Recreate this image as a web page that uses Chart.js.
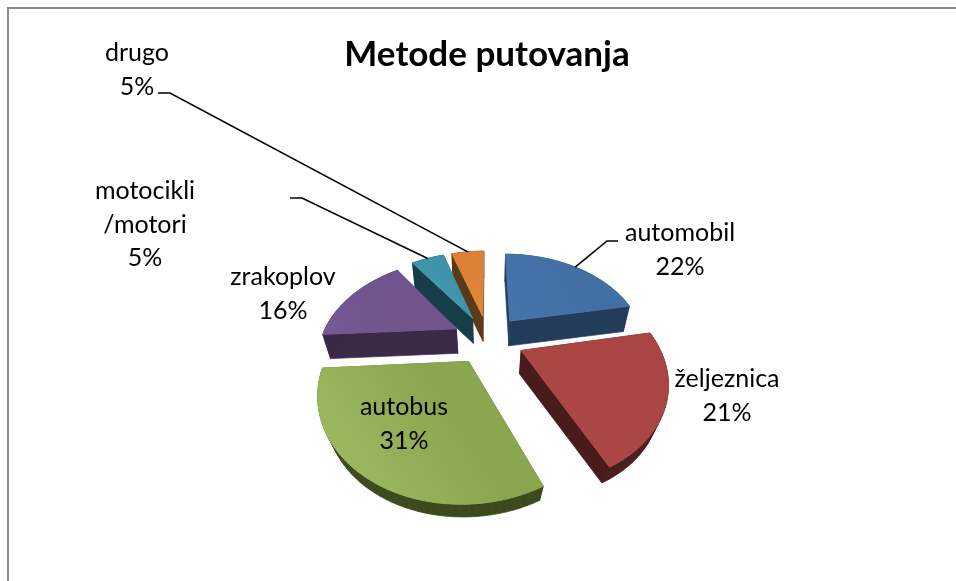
<!DOCTYPE html>
<html>
<head>
<meta charset="utf-8">
<title>Metode putovanja</title>
<script src="https://cdn.jsdelivr.net/npm/chart.js@4/dist/chart.umd.min.js"></script>
<style>
  html, body { margin: 0; padding: 0; background: #fff; overflow: hidden; }
  #okvir { position: absolute; left: 7px; top: 7px; right: 0; bottom: -4px; border-top: 2px solid #8c8c8c; border-left: 2px solid #8c8c8c; }
  #graf { position: absolute; left: 0; top: 0; }
</style>
</head>
<body>
<div id="okvir"></div>
<canvas id="graf" width="956" height="581"></canvas>
<script>
const naslov = 'Metode putovanja';
const kategorije = ['automobil', 'željeznica', 'autobus', 'zrakoplov', 'motocikli\n/motori', 'drugo'];
const postoci = [22, 21, 31, 16, 5, 5];

// boje: svijetli i tamni ton gornje plohe, pa bocna ploha
const bojeSvijetle = ['#4674ab', '#ae4946', '#a3bf66', '#755a93', '#44a0b8', '#e5893c'];
const bojeTamne = ['#4270a5', '#a94543', '#8aa64e', '#6f558c', '#3f94ab', '#dc8238'];
const bojeBok = ['#243c5c', '#471c1a', '#3b4a1c', '#3a2947', '#173d49', '#5b3a1a'];

// polozaj teksta natpisa (sredina prvog retka) i razmak redaka
const natpisi = [[680, 233], [727, 379], [404, 407], [283, 277], [145, 191], [137, 53]];
const razmakRedaka = 33.5;
// koljena linija do natpisa
const linije = { 0: [[607, 241], [618, 241]], 4: [[302, 198], [290, 198]], 5: [[170, 93], [158, 93]] };

// parametri projekcije 3D torte
const pogled = { cx: 488, cy: 339, sx: 135, sy: 92, d: 3.9, dubina: 24, suzenje: 0.05, izvlacenje: 0.267 };

function projekcija(u, v, z) {
  const p = 1 / (1 - v / pogled.d + pogled.suzenje * z);
  return [pogled.cx + pogled.sx * u * p, pogled.cy + pogled.dubina * z + pogled.sy * v * p];
}

// tocka kriske: kut mjeren od vrha u smjeru kazaljke, r = 0 je vrh kriske
function tockaKriske(luk, kut, r, z) {
  const sred = (luk.startAngle + luk.endAngle) / 2 + Math.PI / 2;
  const u = r * Math.sin(kut) + pogled.izvlacenje * Math.sin(sred);
  const v = -r * Math.cos(kut) - pogled.izvlacenje * Math.cos(sred);
  return projekcija(u, v, z);
}

function rubKriske(luk, z) {
  const a = luk.startAngle + Math.PI / 2;
  const b = luk.endAngle + Math.PI / 2;
  const koraka = 48;
  const tocke = [tockaKriske(luk, a, 0, z)];
  for (let i = 0; i <= koraka; i++) {
    tocke.push(tockaKriske(luk, a + (b - a) * i / koraka, 1, z));
  }
  return tocke;
}

function popuni(ctx, tocke, boja) {
  ctx.beginPath();
  tocke.forEach(function(t, i) { i ? ctx.lineTo(t[0], t[1]) : ctx.moveTo(t[0], t[1]); });
  ctx.closePath();
  ctx.fillStyle = boja;
  ctx.fill();
}

const torta3d = {
  id: 'torta3d',
  beforeDatasetsDraw: function(chart) {
    const ctx = chart.ctx;
    const lukovi = chart.getDatasetMeta(0).data;
    // od straznjih prema prednjim kriskama
    const redoslijed = [5, 4, 0, 3, 1, 2];
    ctx.save();
    redoslijed.forEach(function(i) {
      const gore = rubKriske(lukovi[i], 0);
      const dolje = rubKriske(lukovi[i], 1);
      ctx.strokeStyle = bojeBok[i];
      ctx.lineWidth = 0.7;
      gore.forEach(function(t, j) {
        const k = (j + 1) % gore.length;
        popuni(ctx, [t, gore[k], dolje[k], dolje[j]], bojeBok[i]);
        ctx.stroke();
      });
      const xs = gore.map(function(t) { return t[0]; });
      const ys = gore.map(function(t) { return t[1]; });
      const grad = ctx.createLinearGradient(Math.min.apply(null, xs), Math.max.apply(null, ys), Math.max.apply(null, xs), Math.min.apply(null, ys));
      grad.addColorStop(0, bojeSvijetle[i]);
      grad.addColorStop(0.6, bojeTamne[i]);
      grad.addColorStop(1, bojeTamne[i]);
      popuni(ctx, gore, grad);
      ctx.strokeStyle = grad;
      ctx.lineWidth = 1;
      ctx.stroke();
    });
    ctx.restore();
    return false;
  },
  afterDraw: function(chart) {
    const ctx = chart.ctx;
    const lukovi = chart.getDatasetMeta(0).data;
    ctx.save();
    ctx.strokeStyle = '#000';
    ctx.lineWidth = 1.6;
    Object.keys(linije).forEach(function(i) {
      const luk = lukovi[i];
      const pocetak = tockaKriske(luk, (luk.startAngle + luk.endAngle) / 2 + Math.PI / 2, 1, 0);
      ctx.beginPath();
      ctx.moveTo(pocetak[0], pocetak[1]);
      linije[i].forEach(function(t) { ctx.lineTo(t[0], t[1]); });
      ctx.stroke();
    });
    ctx.fillStyle = '#000';
    ctx.font = '25px Lato';
    ctx.textAlign = 'center';
    ctx.textBaseline = 'middle';
    kategorije.forEach(function(naziv, i) {
      const retci = naziv.split('\n').concat(postoci[i] + '%');
      retci.forEach(function(r, j) {
        ctx.fillText(r, natpisi[i][0], natpisi[i][1] + j * razmakRedaka);
      });
    });
    ctx.restore();
  }
};

new Chart(document.getElementById('graf').getContext('2d'), {
  type: 'pie',
  data: {
    labels: kategorije,
    datasets: [{ data: postoci, backgroundColor: bojeTamne, borderWidth: 0 }]
  },
  options: {
    responsive: false,
    animation: false,
    layout: { padding: { left: 18, top: 34 } },
    plugins: {
      legend: { display: false },
      tooltip: { enabled: false },
      title: {
        display: true,
        text: naslov,
        color: '#000',
        font: { family: 'Lato', size: 35, weight: 'bold' },
        padding: 0
      }
    }
  },
  plugins: [torta3d]
});
</script>
</body>
</html>
